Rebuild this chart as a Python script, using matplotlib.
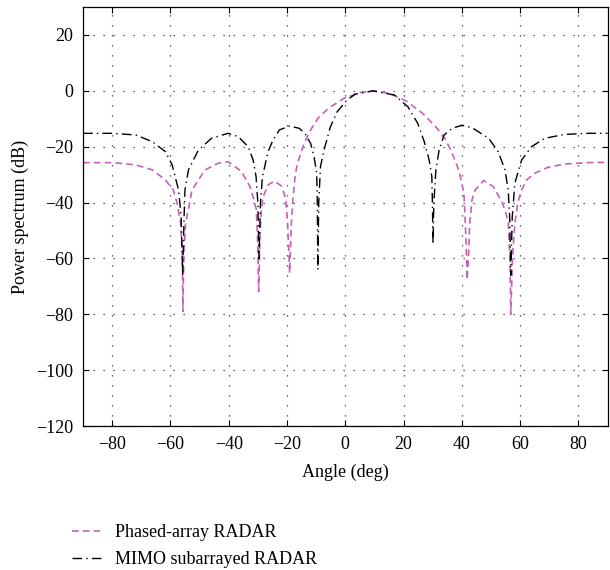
import matplotlib
matplotlib.use("Agg")
import matplotlib.pyplot as plt

# Phased-array RADAR
pa_angle = [-90, -79.8, -71.9, -66.2, -61.7, -59.0, -57.7, -56.5, -55.9, -55.7,
            -55.4, -54.8, -53.4, -52.6, -48.1, -43.6, -40.2, -39.0, -35.6, -32.7,
            -31.6, -30.5, -30.1, -29.7, -29.3, -28.8, -28.2, -26.5, -24.3, -22.0,
            -20.9, -20.3, -19.8, -19.4, -19.1, -18.8, -18.5, -17.9, -17.2, -16.4,
            -14.1, -11.9, -9.0, -5.1, -2.8, -0.5, 2.8, 4.0, 9.6, 15.3,
            20.9, 26.6, 31.1, 34.5, 36.7, 39.0, 40.7, 41.2, 41.6, 41.8,
            42.3, 42.7, 43.5, 44.6, 47.5, 50.8, 53.7, 55.2, 55.9, 56.5,
            56.8, 57.4, 58.2, 59.2, 60.5, 62.2, 65.0, 69.5, 75.2, 83.1, 90]
pa_db = [-25.7, -25.7, -26.5, -28.3, -31.9, -35.5, -40.2, -47.4, -59.0, -79.0,
         -59.0, -47.4, -40.2, -35.5, -28.3, -25.9, -25.4, -26.2, -28.9, -34.3,
         -38.0, -42.6, -53.0, -71.8, -53.0, -42.6, -38.0, -33.7, -32.3, -34.0,
         -37.0, -40.2, -47.4, -57.0, -65.2, -57.0, -47.4, -38.0, -30.5, -25.9,
         -18.8, -14.0, -9.3, -5.7, -4.3, -2.7, -1.5, -0.7, 0.0, -1.0,
         -3.6, -8.1, -12.9, -17.6, -22.4, -28.5, -36.6, -47.4, -59.0, -67.6,
         -59.0, -47.4, -39.0, -35.5, -32.1, -34.3, -39.6, -44.0, -47.4, -59.3,
         -80.0, -59.3, -47.4, -40.0, -35.5, -31.9, -29.5, -27.4, -26.2, -25.7, -25.6]

# MIMO subarrayed RADAR
mimo_angle = [-90, -80.0, -71.9, -66.2, -61.7, -59.4, -57.2, -56.3, -55.8, -55.3,
              -55.0, -53.8, -50.4, -45.9, -40.2, -36.7, -33.3, -31.6, -30.6, -30.0,
              -29.6, -29.1, -28.4, -26.5, -24.8, -22.6, -19.2, -15.8, -13.9, -11.9,
              -10.7, -9.8, -9.6, -9.4, -9.1, -8.5, -7.3, -5.1, -2.8, 0.6,
              3.4, 9.6, 16.9, 21.5, 24.9, 27.1, 28.8, 29.7, 29.9, 30.1,
              30.4, 31.1, 32.2, 33.9, 36.7, 40.1, 43.5, 49.2, 52.5, 54.8,
              55.9, 56.4, 56.8, 57.3, 58.2, 60.5, 63.9, 68.4, 75.2, 83.1, 90]
mimo_db = [-15.2, -15.2, -15.8, -18.2, -21.8, -26.5, -35.5, -45.0, -66.0, -45.0,
           -35.5, -28.3, -21.2, -17.0, -15.2, -16.4, -20.0, -24.8, -30.7, -40.0,
           -60.0, -40.0, -30.7, -21.8, -17.6, -14.0, -12.6, -13.4, -15.2, -18.8,
           -23.6, -29.5, -40.0, -64.0, -40.0, -27.1, -21.2, -12.9, -7.5, -3.3,
           -1.2, 0.0, -1.5, -5.7, -11.7, -18.2, -24.8, -30.7, -40.0, -54.9,
           -40.0, -28.3, -21.2, -15.8, -13.4, -12.3, -13.2, -17.0, -21.8, -28.3,
           -35.5, -45.0, -66.0, -45.0, -33.0, -24.8, -20.0, -17.0, -15.6, -15.2, -15.2]

x_ticks = [-80, -60, -40, -20, 0, 20, 40, 60, 80]
y_ticks = [-120, -100, -80, -60, -40, -20, 0, 20]

plt.rcParams["font.family"] = ["Liberation Serif", "DejaVu Serif"]
plt.rcParams["font.size"] = 13

fig = plt.figure(figsize=(6.1, 5.7), dpi=100)
ax = fig.add_axes([0.136, 0.2526, 0.86, 0.735])

ax.plot(pa_angle, pa_db, color="#c462b8", lw=1.2, linestyle=(0, (4, 2.5)),
        label="Phased-array RADAR")
ax.plot(mimo_angle, mimo_db, color="black", lw=1.0, linestyle=(0, (7, 3, 1, 3)),
        label="MIMO subarrayed RADAR")

ax.set_xlim(-90, 90)
ax.set_ylim(-120, 30)
ax.set_xticks(x_ticks)
ax.set_yticks(y_ticks)
ax.tick_params(direction="in", top=True, right=True, length=4, width=0.8, pad=7)
ax.grid(True, linestyle=(0, (1, 7)), color="#333333", lw=0.9)
for s in ax.spines.values():
    s.set_linewidth(0.9)

ax.set_xlabel("Angle (deg)", labelpad=8)
ax.set_ylabel("Power spectrum (dB)", labelpad=5)

fig.legend(loc="upper left", bbox_to_anchor=(0.107, 0.093), frameon=False,
           handlelength=1.6, handletextpad=0.75, labelspacing=0.55,
           borderaxespad=0)

fig.savefig("out.png", dpi=100)
